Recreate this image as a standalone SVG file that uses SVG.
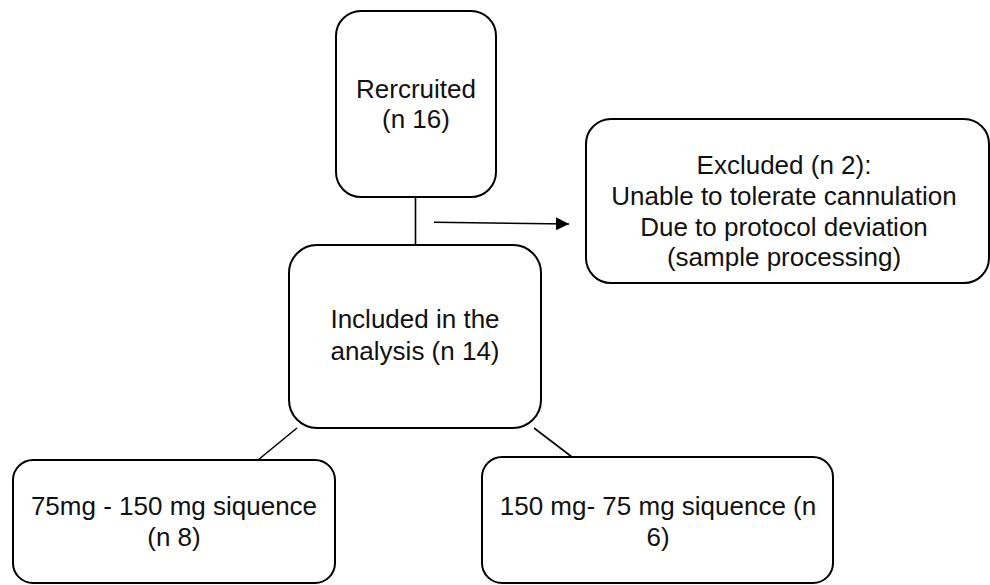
<svg xmlns="http://www.w3.org/2000/svg" width="990" height="585" viewBox="0 0 990 585">
<style>
.box{fill:#fff;stroke:#000;stroke-width:2}
.lbl{font-family:"Liberation Sans",Arial,sans-serif;font-size:26px;fill:#111;text-anchor:middle}
.con{stroke:#000;stroke-width:1.6;fill:none}
</style>
<defs>
<marker id="arr" markerUnits="userSpaceOnUse" markerWidth="14" markerHeight="13" refX="13" refY="6.5" orient="auto">
<path d="M0,0 L13,6.5 L0,13 z" fill="#000"/>
</marker>
</defs>
<rect width="990" height="585" fill="#fff"/>
<g id="connectors">
<line class="con" x1="415.5" y1="197" x2="415.5" y2="245"/>
<line class="con" x1="434" y1="222.3" x2="569" y2="224" marker-end="url(#arr)"/>
<line class="con" x1="297" y1="428" x2="258" y2="460"/>
<line class="con" x1="534" y1="428" x2="572" y2="457"/>
</g>
<g id="recruited">
<rect class="box" x="336" y="11" width="160" height="186" rx="25"/>
<text class="lbl" x="416" y="98">Rercruited</text>
<text class="lbl" x="416" y="128">(n 16)</text>
</g>
<g id="excluded">
<rect class="box" x="586" y="119" width="403" height="164" rx="25"/>
<text class="lbl" x="784" y="174">Excluded (n 2):</text>
<text class="lbl" x="784" y="205">Unable to tolerate cannulation</text>
<text class="lbl" x="784" y="236">Due to protocol deviation</text>
<text class="lbl" x="784" y="266">(sample processing)</text>
</g>
<g id="included">
<rect class="box" x="289" y="245" width="252" height="183" rx="28"/>
<text class="lbl" x="415" y="328">Included in the</text>
<text class="lbl" x="415" y="360">analysis (n 14)</text>
</g>
<g id="seq75">
<rect class="box" x="13" y="460" width="322" height="123" rx="20"/>
<text class="lbl" x="174" y="515">75mg - 150 mg siquence</text>
<text class="lbl" x="174" y="546">(n 8)</text>
</g>
<g id="seq150">
<rect class="box" x="482" y="457" width="351" height="126" rx="20"/>
<text class="lbl" x="658" y="515">150 mg- 75 mg siquence (n</text>
<text class="lbl" x="658" y="546">6)</text>
</g>
</svg>
